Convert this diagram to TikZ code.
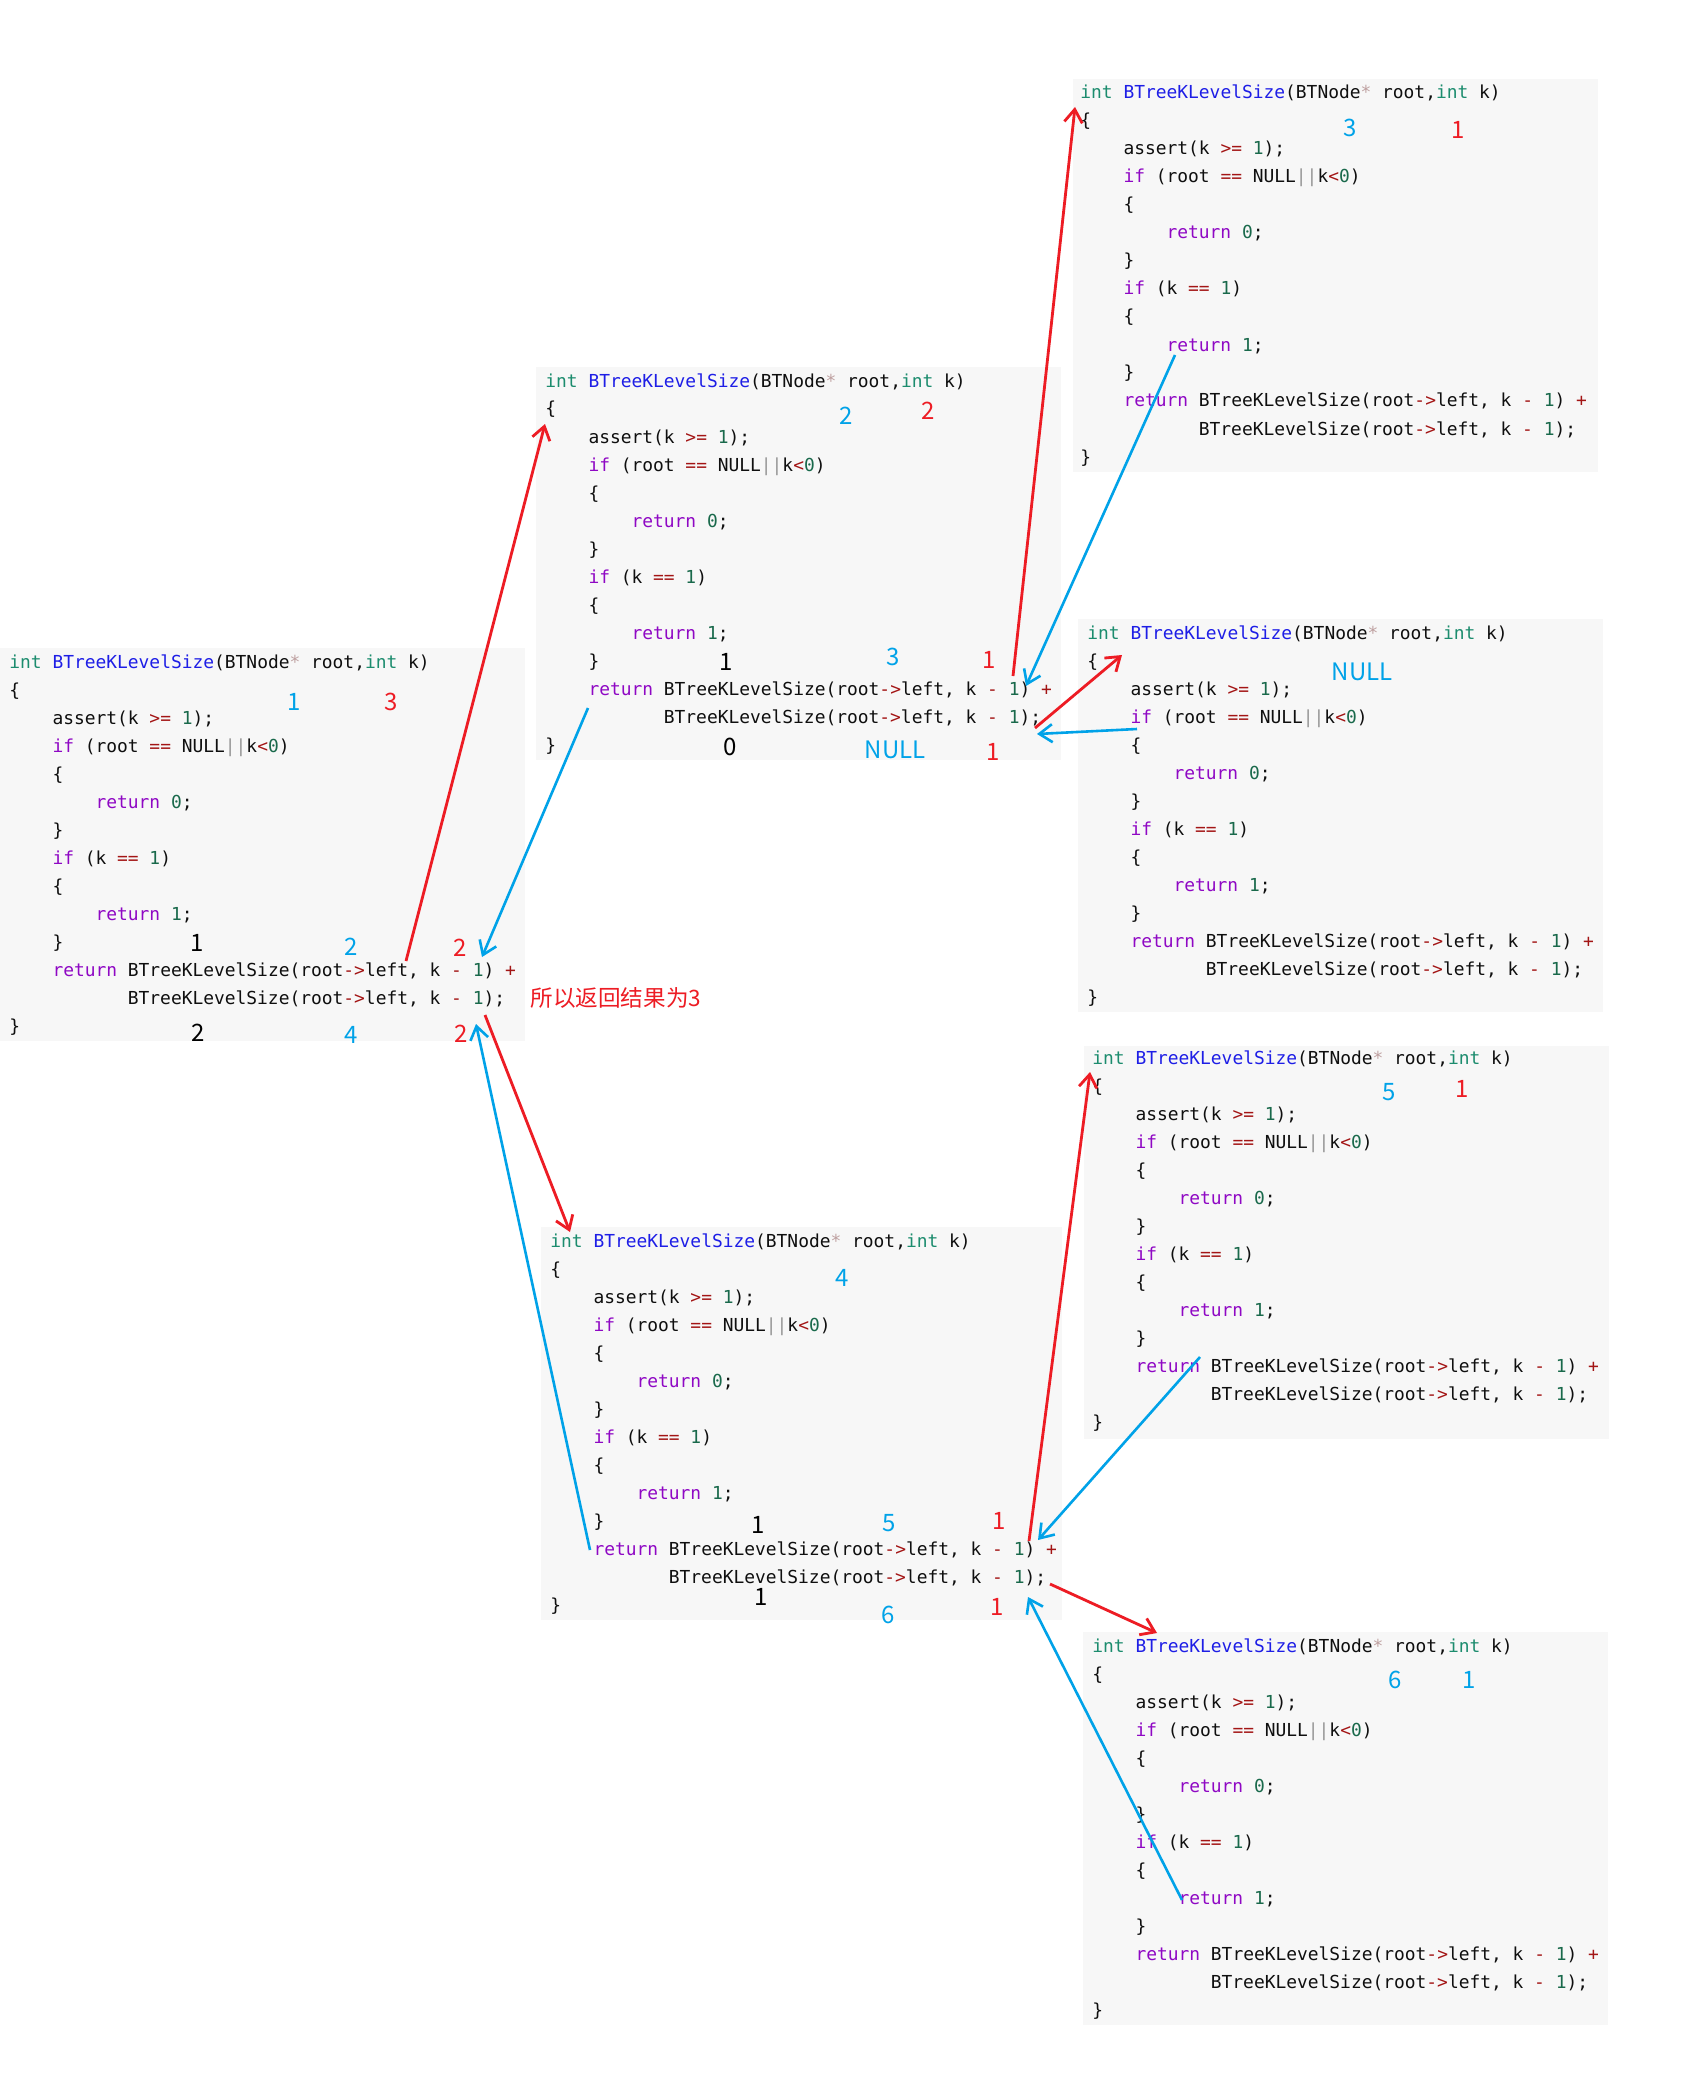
\documentclass[tikz,border=0pt]{standalone}
\usepackage{fontspec}
\setmonofont{DejaVu Sans Mono}
\newfontfamily\cjk{Noto Sans CJK SC}
\usetikzlibrary{arrows.meta}
\definecolor{codebg}{RGB}{247,247,247}
\definecolor{codetext}{RGB}{15,15,15}
\definecolor{cty}{RGB}{28,140,110}
\definecolor{cfn}{RGB}{30,30,230}
\definecolor{ckw}{RGB}{143,8,196}
\definecolor{cop}{RGB}{163,21,21}
\definecolor{cnum}{RGB}{25,105,75}
\definecolor{cstar}{RGB}{190,160,160}
\definecolor{cbar}{RGB}{150,150,150}
\definecolor{annred}{RGB}{237,28,36}
\definecolor{annblue}{RGB}{0,162,232}
\newcommand\codefont{\ttfamily\fontsize{8.95pt}{14pt}\selectfont}
\newcommand\annfont{\cjk\fontsize{12pt}{14pt}\selectfont}
\newcommand\resfont{\cjk\fontsize{11.3pt}{14pt}\selectfont}
\newcommand\ct[1]{\textcolor{cty}{#1}}
\newcommand\cf[1]{\textcolor{cfn}{#1}}
\newcommand\ck[1]{\textcolor{ckw}{#1}}
\newcommand\co[1]{\textcolor{cop}{#1}}
\newcommand\cn[1]{\textcolor{cnum}{#1}}
\newcommand\cs[1]{\textcolor{cstar}{#1}}
\newcommand\cb[1]{\textcolor{cbar}{#1}}
\def\bo{6}
\newcommand\codeblock[3]{%
  \node[cl] (#1l1) at (#2,{#3+\bo}) {\ct{int} \cf{BTreeKLevelSize}(BTNode\cs{*} root,\ct{int} k)};
  \node[cl] (#1l2) at (#2,{#3+\bo+28}) {\{};
  \node[cl] (#1l3) at ({#2+43.1},{#3+\bo+56}) {assert(k \co{>=} \cn{1});};
  \node[cl] (#1l4) at ({#2+43.1},{#3+\bo+84}) {\ck{if} (root \co{==} NULL\cb{||}k\co{<}\cn{0})};
  \node[cl] (#1l5) at ({#2+43.1},{#3+\bo+112}) {\{};
  \node[cl] (#1l6) at ({#2+86.2},{#3+\bo+140}) {\ck{return} \cn{0};};
  \node[cl] (#1l7) at ({#2+43.1},{#3+\bo+168}) {\}};
  \node[cl] (#1l8) at ({#2+43.1},{#3+\bo+196}) {\ck{if} (k \co{==} \cn{1})};
  \node[cl] (#1l9) at ({#2+43.1},{#3+\bo+224}) {\{};
  \node[cl] (#1l10) at ({#2+86.2},{#3+\bo+252}) {\ck{return} \cn{1};};
  \node[cl] (#1l11) at ({#2+43.1},{#3+\bo+280}) {\}};
  \node[cl] (#1l12) at ({#2+43.1},{#3+\bo+308}) {\ck{return} BTreeKLevelSize(root\co{->}left, k \co{-} \cn{1}) \co{+}};
  \node[cl] (#1l13) at ({#2+118.5},{#3+\bo+336}) {BTreeKLevelSize(root\co{->}left, k \co{-} \cn{1});};
  \node[cl] (#1l14) at (#2,{#3+\bo+364}) {\}};
}
\begin{document}
\begin{tikzpicture}[x=0.5pt,y=-0.5pt,
  bgbox/.style={fill=codebg,draw=none,inner sep=0pt,anchor=north west,minimum width=262.5pt,minimum height=196.5pt},
  cl/.style={anchor=base west,inner sep=0pt,font=\codefont,text=codetext},
  ann/.style={inner sep=0pt,anchor=center,font=\annfont},
  ar/.style={ann,text=annred},
  ab/.style={ann,text=annblue},
  ak/.style={ann,text=black},
  callarrow/.style={draw=annred,line width=1.4pt,-{Straight Barb[length=6.5pt,width=9pt]}},
  retarrow/.style={draw=annblue,line width=1.3pt,-{Straight Barb[length=6.5pt,width=9pt]}}]
\path[use as bounding box,fill=white] (0,0) rectangle (1692,2086);

% code boxes
\node[bgbox] (boxA) at (0,648) {};
\node[bgbox] (boxB) at (536,367) {};
\node[bgbox] (boxC) at (1073,79) {};
\node[bgbox] (boxD) at (1078,619) {};
\node[bgbox] (boxE) at (1084,1046) {};
\node[bgbox,minimum width=260.5pt] (boxF) at (541,1227) {};
\node[bgbox] (boxG) at (1083,1632) {};

\codeblock{A}{9}{662}
\codeblock{B}{545}{381}
\codeblock{C}{1080}{93}
\codeblock{D}{1087}{633}
\codeblock{E}{1092}{1058}
\codeblock{F}{550}{1241}
\codeblock{G}{1092}{1646}

% annotations box A
\node[ab] (aA1) at (294,702) {1};
\node[ar] (aA2) at (391,702) {3};
\node[ak] (aA3) at (197,943) {1};
\node[ab] (aA4) at (351,947) {2};
\node[ar] (aA5) at (460,948) {2};
\node[ak] (aA6) at (198,1033) {2};
\node[ab] (aA7) at (351,1035) {4};
\node[ar] (aA8) at (461,1034) {2};
\node[ar,anchor=west,font=\resfont] (result) at (530,998) {所以返回结果为3};
% box B
\node[ab] (aB1) at (846,416) {2};
\node[ar] (aB2) at (928,411) {2};
\node[ak] (aB3) at (726,662) {1};
\node[ab] (aB4) at (893,657) {3};
\node[ar] (aB5) at (989,660) {1};
\node[ak] (aB6) at (730,747) {0};
\node[ab] (aB7) at (895,750) {NULL};
\node[ar] (aB8) at (993,752) {1};
% box C
\node[ab] (aC1) at (1350,128) {3};
\node[ar] (aC2) at (1458,130) {1};
% box D
\node[ab] (aD1) at (1362,672) {NULL};
% box E
\node[ab] (aE1) at (1389,1092) {5};
\node[ar] (aE2) at (1462,1089) {1};
% box F
\node[ab] (aF1) at (842,1278) {4};
\node[ak] (aF2) at (758,1525) {1};
\node[ab] (aF3) at (889,1523) {5};
\node[ar] (aF4) at (999,1521) {1};
\node[ak] (aF5) at (761,1597) {1};
\node[ab] (aF6) at (888,1615) {6};
\node[ar] (aF7) at (997,1607) {1};
% box G
\node[ab] (aG1) at (1395,1680) {6};
\node[ab] (aG2) at (1469,1680) {1};

% arrow end points
\coordinate (r1s) at (406,961);  \coordinate (r1e) at (545,424);
\coordinate (r2s) at (1013,676); \coordinate (r2e) at (1075,107);
\coordinate (r3s) at (1035,728); \coordinate (r3e) at (1122,655);
\coordinate (r4s) at (485,1015); \coordinate (r4e) at (570,1232);
\coordinate (r5s) at (1029,1541); \coordinate (r5e) at (1090,1072);
\coordinate (r6s) at (1050,1584); \coordinate (r6e) at (1157,1633);
\coordinate (b1s) at (588,708);  \coordinate (b1e) at (482,957);
\coordinate (b2s) at (1175,355); \coordinate (b2e) at (1026,686);
\coordinate (b3s) at (1137,729); \coordinate (b3e) at (1037,734);
\coordinate (b4s) at (590,1550); \coordinate (b4e) at (476,1024);
\coordinate (b5s) at (1200,1357); \coordinate (b5e) at (1038,1540);
\coordinate (b6s) at (1182,1900); \coordinate (b6e) at (1028,1597);

% calls (red)
\draw[callarrow] (r1s) -- (r1e);
\draw[callarrow] (r2s) -- (r2e);
\draw[callarrow] (r3s) -- (r3e);
\draw[callarrow] (r4s) -- (r4e);
\draw[callarrow] (r5s) -- (r5e);
\draw[callarrow] (r6s) -- (r6e);
% returns (blue)
\draw[retarrow] (b1s) -- (b1e);
\draw[retarrow] (b2s) -- (b2e);
\draw[retarrow] (b3s) -- (b3e);
\draw[retarrow] (b4s) -- (b4e);
\draw[retarrow] (b5s) -- (b5e);
\draw[retarrow] (b6s) -- (b6e);
\end{tikzpicture}
\end{document}
